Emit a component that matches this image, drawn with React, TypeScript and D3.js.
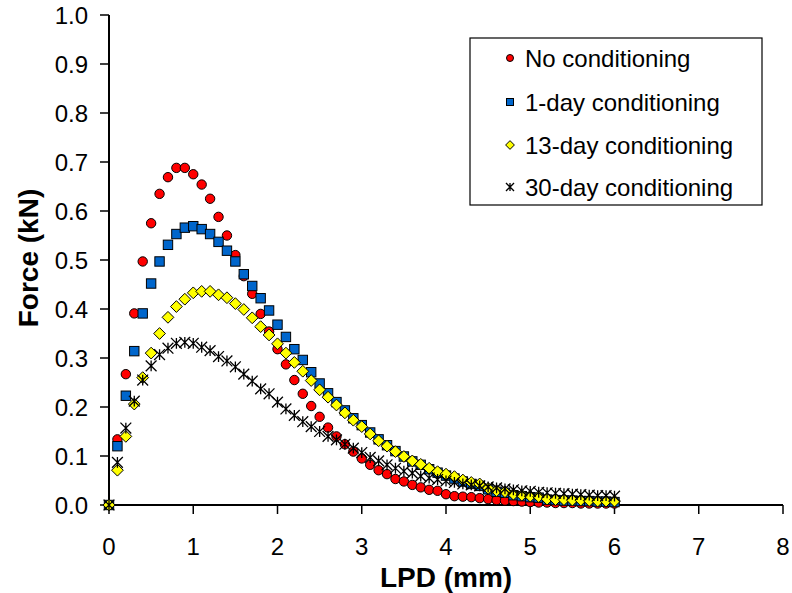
import React from "react";
import * as d3 from "d3";

const LPD = [
  0.0, 0.1, 0.2, 0.3, 0.4, 0.5, 0.6, 0.7, 0.8, 0.9,
  1.0, 1.1, 1.2, 1.3, 1.4, 1.5, 1.6, 1.7, 1.8, 1.9,
  2.0, 2.1, 2.2, 2.3, 2.4, 2.5, 2.6, 2.7, 2.8, 2.9,
  3.0, 3.1, 3.2, 3.3, 3.4, 3.5, 3.6, 3.7, 3.8, 3.9,
  4.0, 4.1, 4.2, 4.3, 4.4, 4.5, 4.6, 4.7, 4.8, 4.9,
  5.0, 5.1, 5.2, 5.3, 5.4, 5.5, 5.6, 5.7, 5.8, 5.9,
  6.0,
];

const noConditioning = [
  0, 0.134, 0.267, 0.391, 0.497, 0.575, 0.635, 0.669, 0.688, 0.688,
  0.675, 0.654, 0.625, 0.588, 0.55, 0.51, 0.467, 0.431, 0.39, 0.354,
  0.318, 0.287, 0.255, 0.227, 0.202, 0.18, 0.158, 0.14, 0.124, 0.109,
  0.095, 0.082, 0.071, 0.063, 0.053, 0.048, 0.041, 0.036, 0.031, 0.029,
  0.022, 0.018, 0.017, 0.016, 0.014, 0.012, 0.01, 0.009, 0.008, 0.007,
  0.006, 0.005, 0.005, 0.004, 0.004, 0.004, 0.003, 0.003, 0.003, 0.003,
  0.003,
];

const oneDay = [
  0, 0.12, 0.223, 0.314, 0.391, 0.452, 0.497, 0.531, 0.553, 0.566,
  0.569, 0.563, 0.553, 0.537, 0.519, 0.497, 0.471, 0.447, 0.422, 0.397,
  0.368, 0.343, 0.318, 0.296, 0.271, 0.248, 0.228, 0.21, 0.193, 0.177,
  0.163, 0.148, 0.134, 0.122, 0.11, 0.099, 0.089, 0.082, 0.073, 0.066,
  0.06, 0.054, 0.048, 0.043, 0.039, 0.032, 0.027, 0.025, 0.02, 0.018,
  0.016, 0.015, 0.011, 0.01, 0.009, 0.009, 0.008, 0.008, 0.007, 0.007,
  0.006,
];

const thirteenDay = [
  0, 0.071, 0.14, 0.206, 0.26, 0.31, 0.35, 0.383, 0.405, 0.42,
  0.433, 0.436, 0.436, 0.429, 0.423, 0.411, 0.399, 0.382, 0.364, 0.347,
  0.329, 0.31, 0.291, 0.273, 0.254, 0.235, 0.22, 0.204, 0.188, 0.173,
  0.16, 0.145, 0.131, 0.12, 0.109, 0.099, 0.09, 0.083, 0.075, 0.068,
  0.063, 0.058, 0.051, 0.046, 0.043, 0.034, 0.029, 0.027, 0.022, 0.02,
  0.018, 0.017, 0.012, 0.011, 0.011, 0.01, 0.01, 0.009, 0.008, 0.008,
  0.008,
];

const thirtyDay = [
  0, 0.087, 0.157, 0.212, 0.255, 0.284, 0.307, 0.32, 0.33, 0.332,
  0.33, 0.322, 0.315, 0.303, 0.294, 0.282, 0.267, 0.253, 0.237, 0.227,
  0.21, 0.196, 0.183, 0.17, 0.16, 0.15, 0.14, 0.133, 0.124, 0.116,
  0.107, 0.097, 0.09, 0.082, 0.075, 0.069, 0.065, 0.059, 0.055, 0.052,
  0.049, 0.046, 0.043, 0.041, 0.039, 0.037, 0.035, 0.033, 0.031, 0.029,
  0.028, 0.026, 0.025, 0.024, 0.023, 0.022, 0.021, 0.02, 0.019, 0.019,
  0.018,
];

const seriesNames = ["No conditioning", "1-day conditioning", "13-day conditioning", "30-day conditioning"];
const seriesValues = [noConditioning, oneDay, thirteenDay, thirtyDay];
const seriesKinds = ["circle", "square", "diamond", "star"];
const seriesColors = ["#ff0000", "#0066cc", "#ffff00", "#000000"];

const xTicks = [0, 1, 2, 3, 4, 5, 6, 7, 8];
const yTicks = [0, 0.1, 0.2, 0.3, 0.4, 0.5, 0.6, 0.7, 0.8, 0.9, 1.0];

const FONT = "'Liberation Sans', Arial, sans-serif";

function Marker({ kind, color, x, y, s }: { kind: string; color: string; x: number; y: number; s: number }) {
  if (kind === "circle") {
    return <circle cx={x} cy={y} r={s} fill={color} stroke="#000" strokeWidth={1} />;
  }
  if (kind === "square") {
    return <rect x={x - s} y={y - s} width={2 * s} height={2 * s} fill={color} stroke="#000" strokeWidth={1} />;
  }
  if (kind === "diamond") {
    const d = s * 1.25;
    return (
      <path
        d={`M${x},${y - d}L${x + d},${y}L${x},${y + d}L${x - d},${y}Z`}
        fill={color}
        stroke="#000"
        strokeWidth={1}
      />
    );
  }
  const k = s * 1.15;
  return (
    <path
      d={`M${x - k},${y - k}L${x + k},${y + k}M${x - k},${y + k}L${x + k},${y - k}M${x},${y - k}L${x},${y + k}`}
      stroke="#000"
      strokeWidth={1.3}
      fill="none"
    />
  );
}

export default function App() {
  const W = 792;
  const H = 593;
  const left = 109;
  const right = 783;
  const top = 15;
  const bottom = 505;

  const x = d3.scaleLinear().domain([0, 8]).range([left, right]);
  const y = d3.scaleLinear().domain([0, 1]).range([bottom, top]);

  const legendX = 470;
  const legendY = 38;
  const legendW = 292;
  const legendH = 167;
  const rowYs = [58, 102, 145, 187];

  return (
    <svg
      width={W}
      height={H}
      style={{ position: "absolute", left: 0, top: 0, background: "#fff" }}
      fontFamily={FONT}
    >
      <rect x={0} y={0} width={W} height={H} fill="#fff" />

      {/* axes */}
      <line x1={left} y1={top} x2={left} y2={bottom} stroke="#000" strokeWidth={2} />
      <line x1={left} y1={bottom} x2={right} y2={bottom} stroke="#000" strokeWidth={2} />

      {yTicks.map((t) => (
        <g key={"y" + t}>
          <line x1={left - 9} x2={left} y1={y(t)} y2={y(t)} stroke="#000" strokeWidth={1.5} />
          <text x={88} y={y(t) + 8.5} textAnchor="end" fontSize={24} fill="#000">
            {t.toFixed(1)}
          </text>
        </g>
      ))}

      {xTicks.map((t) => (
        <g key={"x" + t}>
          <line x1={x(t)} x2={x(t)} y1={bottom} y2={bottom + 9} stroke="#000" strokeWidth={1.5} />
          <text x={x(t)} y={555} textAnchor="middle" fontSize={24} fill="#000">
            {t}
          </text>
        </g>
      ))}

      <text x={446} y={587} textAnchor="middle" fontSize={28} fontWeight="bold" fill="#000">
        LPD (mm)
      </text>
      <text
        transform={`translate(38,258) rotate(-90)`}
        textAnchor="middle"
        fontSize={28}
        fontWeight="bold"
        fill="#000"
      >
        Force (kN)
      </text>

      {/* data */}
      {seriesValues.map((vals, si) => (
        <g key={"s" + si}>
          {vals.map((v, i) => (
            <Marker key={i} kind={seriesKinds[si]} color={seriesColors[si]} x={x(LPD[i])} y={y(v)} s={4.7} />
          ))}
        </g>
      ))}

      {/* legend */}
      <rect x={legendX} y={legendY} width={legendW} height={legendH} fill="#fff" stroke="#000" strokeWidth={1.2} />
      {seriesNames.map((name, i) => (
        <g key={"l" + i}>
          <Marker kind={seriesKinds[i]} color={seriesColors[i]} x={510} y={rowYs[i]} s={3.5} />
          <text x={525} y={rowYs[i] + 8.5} fontSize={24} fill="#000">
            {name}
          </text>
        </g>
      ))}
    </svg>
  );
}
